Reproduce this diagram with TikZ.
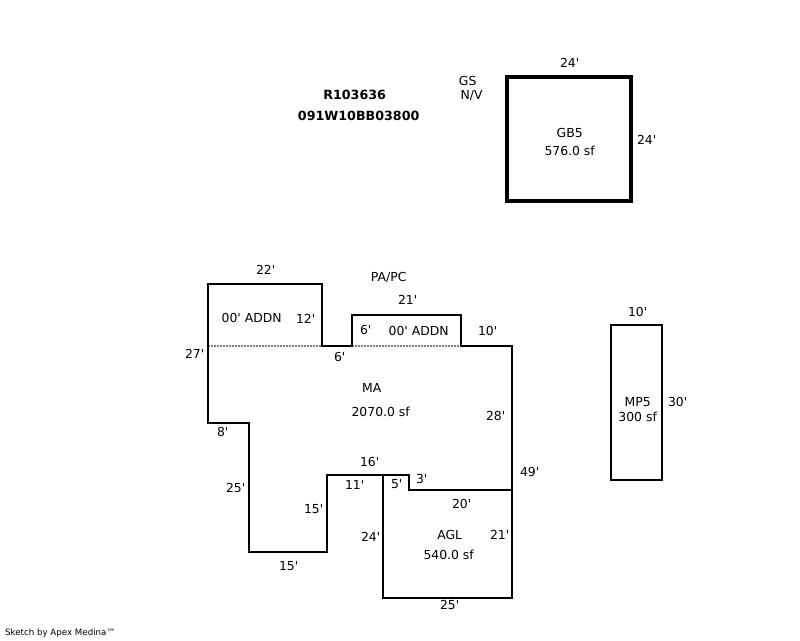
\documentclass[tikz,border=0pt]{standalone}
\usepackage{fontspec}
\newfontfamily\planfont{DejaVu Sans}
\begin{document}
\begin{tikzpicture}[x=0.75pt, y=-0.75pt,
        every node/.style={inner sep=0pt, xshift=0.5pt, font=\planfont\fontsize{9.3}{11}\selectfont},
        wall/.style={draw, line width=1.9pt, line join=miter},
        heavywall/.style={draw, line width=2.35pt, line join=miter},
        addnline/.style={draw=gray, line width=1.75pt, dash pattern=on 1.5pt off 0.75pt},
        idlabel/.style={font=\planfont\bfseries\fontsize{9.5}{11}\selectfont},
        creditlabel/.style={font=\planfont\fontsize{6.5}{8}\selectfont}]

        \useasboundingbox (0,0) rectangle (800,640);

            % Main building
            \draw[addnline] (208,346) -- (322,346);
            \draw[addnline] (352,346) -- (461,346);
            \draw[wall] (208,284) -- (322,284) -- (322,346) -- (352,346) -- (352,315) -- (461,315)
                -- (461,346) -- (512,346) -- (512,490) -- (409,490) -- (409,475) -- (327,475)
                -- (327,552) -- (249,552) -- (249,423) -- (208,423) -- cycle;

            % Attached garage
            \draw[wall] (383,475) -- (383,598) -- (512,598) -- (512,490);

            % Outbuildings
            \draw[heavywall] (507,77) rectangle (631,201);
            \draw[wall] (611,325) rectangle (662,480);

            % Header
            \node[idlabel] (parcel) at (354,95) {R103636};
            \node[idlabel] (account) at (358,116) {091W10BB03800};
            \node (gs) at (467,81) {GS};
            \node (nv) at (471,96) {N/V};

            % Garage GB5
            \node (gbtop) at (569,63) {24'};
            \node (gbright) at (646,140) {24'};
            \node (gbname) at (569,133) {GB5};
            \node (gbarea) at (569,151) {576.0 sf};

            % Main building labels
            \node (matop) at (265,270) {22'};
            \node (papc) at (388,277) {PA/PC};
            \node (addntop) at (407,300) {21'};
            \node (addnleft) at (251,318) {00' ADDN};
            \node (addnside) at (305,319) {12'};
            \node (addnstep) at (365,330) {6'};
            \node (addnright) at (418,331) {00' ADDN};
            \node (maten) at (487,331) {10'};
            \node (maleft) at (194,354) {27'};
            \node (mastep) at (339,357) {6'};
            \node (maname) at (371,388) {MA};
            \node (maarea) at (380,412) {2070.0 sf};
            \node (maright) at (495,416) {28'};
            \node (maeight) at (222,432) {8'};
            \node (masixteen) at (369,462) {16'};
            \node (mathree) at (421,479) {3'};
            \node (matotal) at (529,472) {49'};
            \node (maeleven) at (354,485) {11'};
            \node (mafive) at (396,484) {5'};
            \node (malower) at (235,488) {25'};
            \node (mafifteen) at (313,509) {15'};
            \node (mabottom) at (288,566) {15'};

            % Garage AGL
            \node (agltop) at (461,504) {20'};
            \node (aglleft) at (370,537) {24'};
            \node (aglright) at (499,535) {21'};
            \node (aglname) at (449,535) {AGL};
            \node (aglarea) at (448,555) {540.0 sf};
            \node (aglbottom) at (449,605) {25'};

            % Porch MP5
            \node (mptop) at (637,312) {10'};
            \node (mpname) at (637,402) {MP5};
            \node (mparea) at (637,417) {300 sf};
            \node (mpright) at (677,402) {30'};

            % Credit
            \node[creditlabel] (credit) at (59.5,633) {Sketch by Apex Medina™};
    \end{tikzpicture}
\end{document}
